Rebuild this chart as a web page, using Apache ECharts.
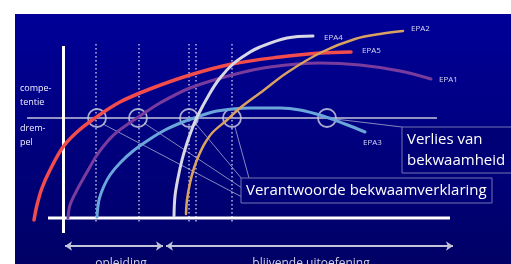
<!DOCTYPE html>
<html>
<head>
<meta charset="utf-8">
<script src="https://cdn.jsdelivr.net/npm/echarts@6/dist/echarts.min.js"></script>
<style>
  html, body {margin: 0; background: #fff}
  #chart {width: 511px; height: 264px}
</style>
</head>
<body>
<div id="chart"></div>
<script>
// curves, in slide coordinates (x right, y down)
const epa5 = [[34,220],[37,205],[42,188],[50,170],[63,147],[77,132],[95,118],[120,102],[150,89],[190,75],[232,64],[280,57],[320,53],[351,52]]
const epa1 = [[68,218],[70,205],[77,190],[87,172],[97,155],[107,142],[117,132],[140,116],[160,103],[190,88],[232,75],[270,67],[320,63],[360,65],[400,71],[431,79]]
const epa3 = [[97,217],[99,200],[104,186],[110,175],[120,163],[133,151],[150,139],[165,130],[183,122],[200,116],[217,111],[250,108],[280,108],[300,110],[323,116],[345,124],[365,132]]
const epa4 = [[174,216],[175,196],[178,178],[182,160],[187,143],[192,129],[197,117],[210,93],[220,78],[233,64],[247,54],[260,47],[287,38],[313,36]]
const epa2 = [[186,214],[187,200],[190,183],[194,168],[199,155],[205,143],[213,132],[227,120],[240,108],[260,93],[288,72],[322,52],[355,39],[380,34],[403,31]]

const epaNames = ["EPA4", "EPA5", "EPA2", "EPA1", "EPA3"]
const epaLabelPos = [[324,38],[362,51],[411,29],[439,80],[363,143]]

const yAxisLine = [[63.5,46],[63.5,233]]
const xAxisLine = [[48,218],[450,218]]
const threshold = [[27,118],[437,118]]
const dottedX = [96, 139, 189, 196, 232]
const dottedRange = [44, 222]
const circles = [[97,118],[138,118],[189,118],[232,118],[327,118]]

const connectors = [
  [[103,124],[242,197]],
  [[144,123],[242,188]],
  [[196,124],[242,179]],
  [[235,127],[249,178]],
  [[335,119],[402,127]]
]

const boxes = [[241,178,492,203],[402,127,512,173]]
const boxTexts = ["Verantwoorde bekwaamverklaring", "Verlies van\nbekwaamheid"]

const sideLabels = ["compe-", "tentie", "drem-", "pel"]
const sideLabelPos = [[20,88],[20,102],[20,128],[20,142]]

const phaseArrows = [[[65,246],[163,246]],[[166,246],[453,246]]]
const phaseNames = ["opleiding", "blijvende uitoefening"]
const phaseLabelPos = [[121,264],[311,264]]

const font = '"Open Sans", sans-serif'
const chart = echarts.init(document.getElementById("chart"))

const curve = (data, color, width) => ({
  type: "line", data, smooth: 0.35, showSymbol: false, silent: true,
  lineStyle: {color, width, cap: "round"}
})
const straight = (data, color, width, type) => ({
  type: "line", data, showSymbol: false, silent: true,
  lineStyle: {color, width, type: type || "solid"}
})
const texts = (pos, labels, size, color, align) => ({
  type: "custom", silent: true, data: pos,
  renderItem: (params, api) => {
    const p = api.coord([api.value(0), api.value(1)])
    return {
      type: "text", x: p[0], y: p[1],
      style: {text: labels[params.dataIndex], fill: color, font: size + "px " + font,
        align: align || "left", verticalAlign: "middle"}
    }
  }
})

chart.setOption({
  animation: false,
  grid: {left: 15, top: 14, right: 0, bottom: 0, show: true, borderWidth: 0,
    backgroundColor: new echarts.graphic.LinearGradient(0, 0, 0, 1, [
      {offset: 0, color: "#000098"}, {offset: 1, color: "#000066"}])},
  xAxis: {type: "value", min: 15, max: 511, show: false},
  yAxis: {type: "value", min: 14, max: 264, inverse: true, show: false},
  series: [
    ...dottedX.map(x => straight([[x, dottedRange[0]], [x, dottedRange[1]]], "#b8b8dc", 1.5, [1.5, 2.5])),
    straight(threshold, "#c4c4dc", 1.5),
    straight(yAxisLine, "#ffffff", 3),
    straight(xAxisLine, "#ffffff", 3),
    curve(epa1, "#7a3c9c", 3),
    curve(epa3, "#6aa6da", 3),
    curve(epa5, "#f24c4c", 3.5),
    curve(epa2, "#d9a261", 2.5),
    curve(epa4, "#d8d8e4", 3),
    {
      type: "lines", coordinateSystem: "cartesian2d", silent: true,
      data: connectors.map(c => ({coords: c})),
      lineStyle: {color: "#a8a8d0", width: 0.8, opacity: 1}
    },
    {
      type: "scatter", data: circles, symbol: "circle", symbolSize: 18, silent: true,
      itemStyle: {color: "rgba(0,0,0,0)", borderColor: "#d4d4e4", borderWidth: 1.8}
    },
    {
      type: "custom", silent: true, data: boxes,
      renderItem: (params, api) => {
        const a = api.coord([api.value(0), api.value(1)])
        const b = api.coord([api.value(2), api.value(3)])
        return {
          type: "group",
          children: [
            {type: "rect", shape: {x: a[0], y: a[1], width: b[0] - a[0], height: b[1] - a[1]},
              style: {fill: "#000076", stroke: "#7474b4", lineWidth: 1}},
            {type: "text", x: a[0] + 5, y: (a[1] + b[1]) / 2 + 0.5,
              style: {text: boxTexts[params.dataIndex], fill: "#ffffff", font: "15px " + font,
                verticalAlign: "middle", lineHeight: 21}}
          ]
        }
      }
    },
    {
      type: "lines", coordinateSystem: "cartesian2d", silent: true,
      data: phaseArrows.map(c => ({coords: c})),
      symbol: ["arrow", "arrow"], symbolSize: 7,
      lineStyle: {color: "#c4c4d8", width: 2, opacity: 1}
    },
    texts(epaLabelPos, epaNames, 8, "#d8d8f4"),
    texts(sideLabelPos, sideLabels, 9, "#f0f0ff"),
    texts(phaseLabelPos, phaseNames, 12, "#d0d0e8", "center")
  ]
})
</script>
</body>
</html>
